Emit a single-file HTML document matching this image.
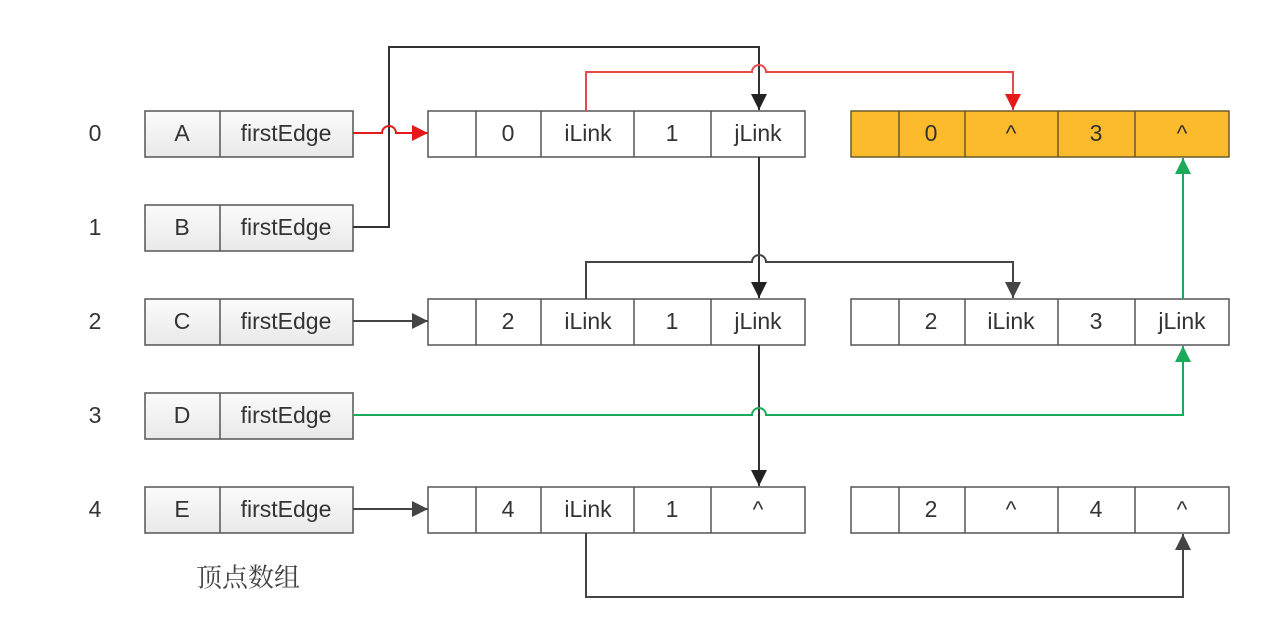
<!DOCTYPE html>
<html><head><meta charset="utf-8"><style>
html,body{margin:0;padding:0;background:#fff;width:1288px;height:640px;overflow:hidden}
svg text{font-family:"Liberation Sans","DejaVu Sans",sans-serif;font-size:23px;fill:#333;text-anchor:middle;dominant-baseline:central}
</style></head><body>
<svg width="1288" height="640" viewBox="0 0 1288 640" xmlns="http://www.w3.org/2000/svg">
<defs>
<linearGradient id="g" x1="0" y1="0" x2="0" y2="1"><stop offset="0" stop-color="#fbfbfb"/><stop offset="1" stop-color="#e9e9e9"/></linearGradient>
<marker id="ab" markerWidth="16" markerHeight="16" refX="16" refY="8" orient="auto" markerUnits="userSpaceOnUse"><path d="M0,0 L16,8 L0,16 z" fill="#222"/></marker>
<marker id="ar" markerWidth="16" markerHeight="16" refX="16" refY="8" orient="auto" markerUnits="userSpaceOnUse"><path d="M0,0 L16,8 L0,16 z" fill="#e41a1a"/></marker>
<marker id="ag" markerWidth="16" markerHeight="16" refX="16" refY="8" orient="auto" markerUnits="userSpaceOnUse"><path d="M0,0 L16,8 L0,16 z" fill="#1aaa5a"/></marker>
<marker id="ad" markerWidth="16" markerHeight="16" refX="16" refY="8" orient="auto" markerUnits="userSpaceOnUse"><path d="M0,0 L16,8 L0,16 z" fill="#444"/></marker>
</defs>

<g>
<text x="95" y="133">0</text><text x="95" y="227">1</text><text x="95" y="321">2</text><text x="95" y="415">3</text><text x="95" y="509">4</text>
</g>
<text x="248" y="578" style="font-family:'Liberation Serif','Noto Serif CJK SC',serif;font-size:26px;fill:#444">顶点数组</text>

<g stroke="#555" stroke-width="1.5" fill="url(#g)">
<rect x="145" y="111" width="208" height="46"/><line x1="220" y1="111" x2="220" y2="157"/>
<rect x="145" y="205" width="208" height="46"/><line x1="220" y1="205" x2="220" y2="251"/>
<rect x="145" y="299" width="208" height="46"/><line x1="220" y1="299" x2="220" y2="345"/>
<rect x="145" y="393" width="208" height="46"/><line x1="220" y1="393" x2="220" y2="439"/>
<rect x="145" y="487" width="208" height="46"/><line x1="220" y1="487" x2="220" y2="533"/>
</g>
<g>
<text x="182" y="133">A</text><text x="286" y="133">firstEdge</text>
<text x="182" y="227">B</text><text x="286" y="227">firstEdge</text>
<text x="182" y="321">C</text><text x="286" y="321">firstEdge</text>
<text x="182" y="415">D</text><text x="286" y="415">firstEdge</text>
<text x="182" y="509">E</text><text x="286" y="509">firstEdge</text>
</g>

<g stroke="#555" stroke-width="1.5" fill="#fff">
<rect x="428" y="111" width="377" height="46"/>
<rect x="428" y="299" width="377" height="46"/>
<rect x="428" y="487" width="377" height="46"/>
<rect x="851" y="299" width="378" height="46"/>
<rect x="851" y="487" width="378" height="46"/>
<rect x="851" y="111" width="378" height="46" fill="#fbbb2c" stroke="#6b5a2a"/>
</g>
<g stroke="#555" stroke-width="1.5">
<path d="M476,111v46M541,111v46M634,111v46M711,111v46"/>
<path d="M476,299v46M541,299v46M634,299v46M711,299v46"/>
<path d="M476,487v46M541,487v46M634,487v46M711,487v46"/>
<path d="M899,299v46M965,299v46M1058,299v46M1135,299v46"/>
<path d="M899,487v46M965,487v46M1058,487v46M1135,487v46"/>
<path d="M899,111v46M965,111v46M1058,111v46M1135,111v46" stroke="#6b5a2a"/>
</g>
<g>
<text x="508" y="133">0</text><text x="588" y="133">iLink</text><text x="672" y="133">1</text><text x="758" y="133">jLink</text>
<text x="508" y="321">2</text><text x="588" y="321">iLink</text><text x="672" y="321">1</text><text x="758" y="321">jLink</text>
<text x="508" y="509">4</text><text x="588" y="509">iLink</text><text x="672" y="509">1</text><text x="758" y="509">^</text>
<text x="931" y="321">2</text><text x="1011" y="321">iLink</text><text x="1096" y="321">3</text><text x="1182" y="321">jLink</text>
<text x="931" y="509">2</text><text x="1011" y="509">^</text><text x="1096" y="509">4</text><text x="1182" y="509">^</text>
<text x="931" y="133">0</text><text x="1011" y="133">^</text><text x="1096" y="133">3</text><text x="1182" y="133">^</text>
</g>

<g fill="none" stroke-width="2">
<path d="M353,227 H389 V47 H759 V110" stroke="#333" marker-end="url(#ab)"/>
<path d="M353,133 H382 a7,7 0 0 1 14,0 H428" stroke="#e41a1a" marker-end="url(#ar)"/>
<path d="M586,111 V72 H752 a7,7 0 0 1 14,0 H1013 V110" stroke="#e8494a" marker-end="url(#ar)"/>
<path d="M759,157 V298" stroke="#333" marker-end="url(#ab)"/>
<path d="M586,299 V262 H752 a7,7 0 0 1 14,0 H1013 V298" stroke="#444" marker-end="url(#ad)"/>
<path d="M353,321 H428" stroke="#444" marker-end="url(#ad)"/>
<path d="M353,509 H428" stroke="#444" marker-end="url(#ad)"/>
<path d="M759,345 V486" stroke="#333" marker-end="url(#ab)"/>
<path d="M353,415 H752 a7,7 0 0 1 14,0 H1183 V346" stroke="#1aaa5a" marker-end="url(#ag)"/>
<path d="M1183,299 V158" stroke="#1aaa5a" marker-end="url(#ag)"/>
<path d="M586,533 V597 H1183 V534" stroke="#444" marker-end="url(#ad)"/>
</g>
</svg>
</body></html>
